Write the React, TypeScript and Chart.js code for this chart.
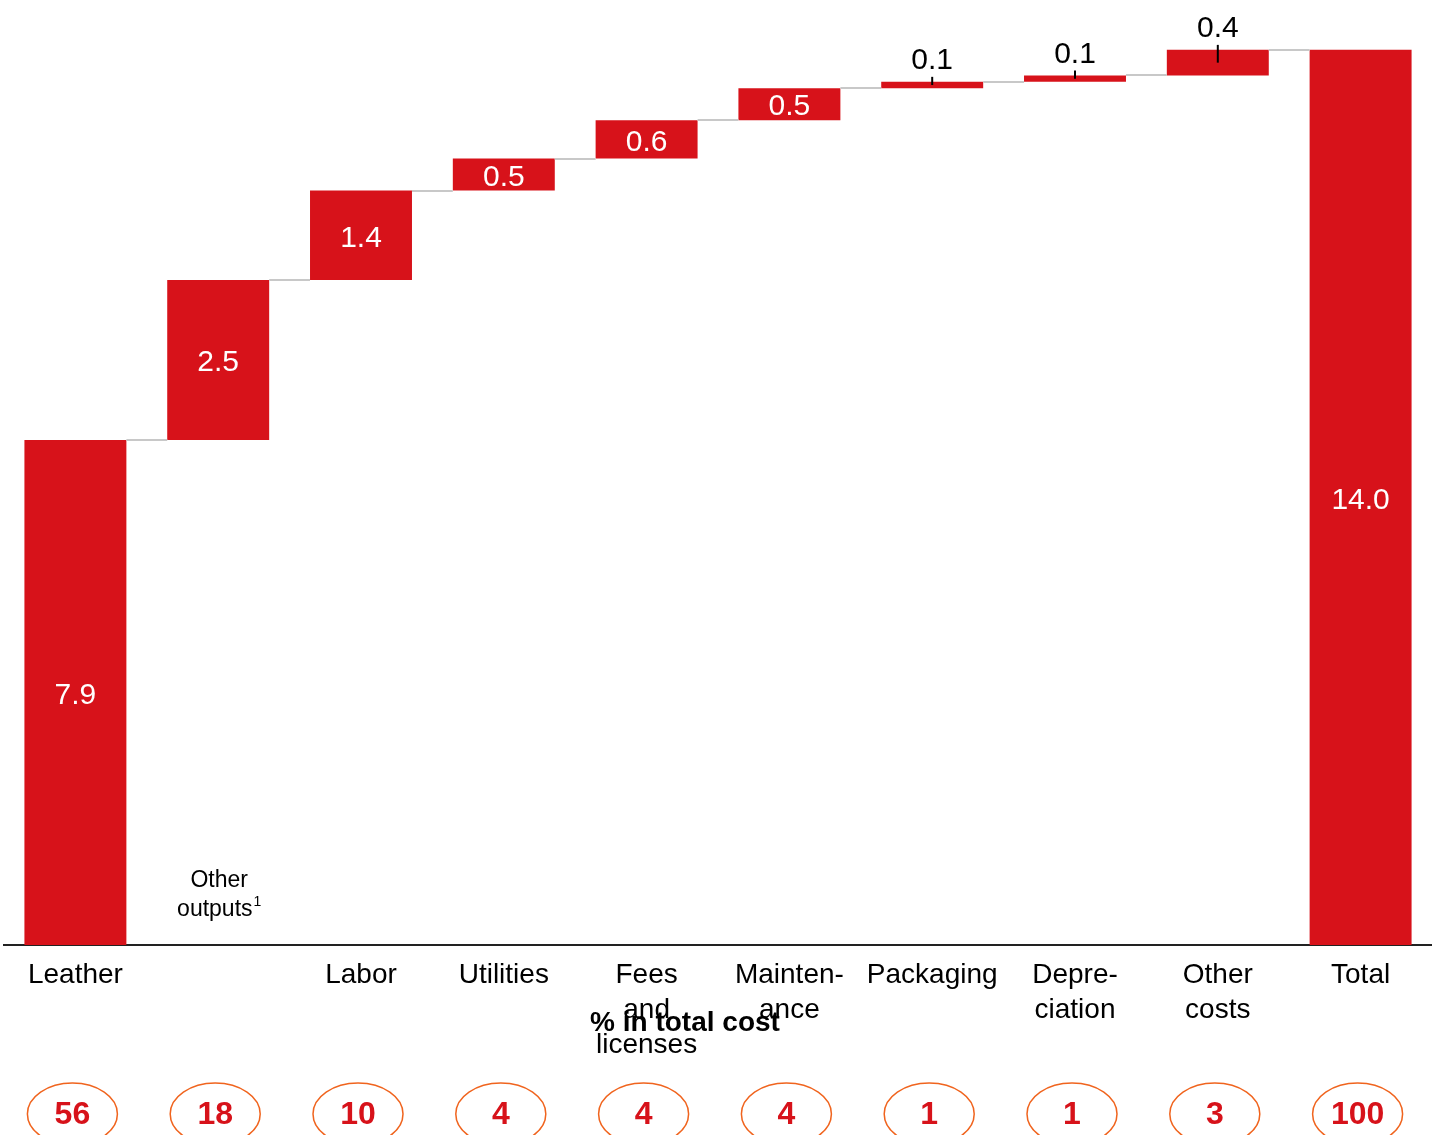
import React, { useEffect, useRef } from 'react';
import { Chart, registerables } from 'chart.js';

Chart.register(...registerables);

const categories: (string | string[])[] = [
  'Leather',
  '',
  'Labor',
  'Utilities',
  ['Fees', 'and', 'licenses'],
  ['Mainten-', 'ance'],
  'Packaging',
  ['Depre-', 'ciation'],
  ['Other', 'costs'],
  'Total',
];
const values = [7.9, 2.5, 1.4, 0.5, 0.6, 0.5, 0.1, 0.1, 0.4, 14.0];
const shares = [56, 18, 10, 4, 4, 4, 1, 1, 3, 100];
const noteCategoryIndex = 1;
const noteLines = ['Other', 'outputs'];
const noteSup = '1';
const shareTitle = '% in total cost';
const totalIndex = 9;

const RED = '#D7121A';
const ORANGE = '#F0641E';
const FONT = '"Liberation Sans", Arial, Helvetica, sans-serif';

function buildRanges(): [number, number][] {
  let run = 0;
  return values.map((v, i) => {
    if (i === totalIndex) return [0, v];
    const r: [number, number] = [run, +(run + v).toFixed(4)];
    run = r[1];
    return r;
  });
}

export default function App() {
  const ref = useRef<HTMLCanvasElement | null>(null);

  useEffect(() => {
    if (!ref.current) return;
    const ranges = buildRanges();

    const overlay = {
      id: 'overlay',
      afterDatasetsDraw(chart: any) {
        const ctx = chart.ctx as CanvasRenderingContext2D;
        const meta = chart.getDatasetMeta(0);
        const y = chart.scales.y;
        ctx.save();
        // connectors
        ctx.strokeStyle = '#c8c8c8';
        ctx.lineWidth = 2;
        for (let i = 0; i < meta.data.length - 1; i++) {
          const a = meta.data[i];
          const b = meta.data[i + 1];
          const py = Math.round(y.getPixelForValue(ranges[i][1]));
          ctx.beginPath();
          ctx.moveTo(a.x + a.width / 2, py);
          ctx.lineTo(b.x - b.width / 2, py);
          ctx.stroke();
        }
        // value labels
        ctx.textAlign = 'center';
        ctx.textBaseline = 'middle';
        ctx.font = `30px ${FONT}`;
        meta.data.forEach((bar: any, i: number) => {
          const top = y.getPixelForValue(ranges[i][1]);
          const bottom = y.getPixelForValue(ranges[i][0]);
          const h = bottom - top;
          const txt = values[i].toFixed(1);
          if (h >= 30) {
            ctx.fillStyle = '#ffffff';
            ctx.fillText(txt, bar.x, (top + bottom) / 2 + 3);
          } else {
            ctx.fillStyle = '#000000';
            ctx.fillText(txt, bar.x, top - 21);
            ctx.strokeStyle = '#000000';
            ctx.lineWidth = 2;
            ctx.beginPath();
            ctx.moveTo(bar.x, top - 5);
            ctx.lineTo(bar.x, (top + bottom) / 2);
            ctx.stroke();
          }
        });
        ctx.restore();
      },
      afterDraw(chart: any) {
        const ctx = chart.ctx as CanvasRenderingContext2D;
        const x = chart.scales.x;
        const ca = chart.chartArea;
        ctx.save();
        // note label inside chart
        const nx = x.getPixelForValue(noteCategoryIndex);
        ctx.fillStyle = '#000';
        ctx.textBaseline = 'middle';
        ctx.textAlign = 'center';
        ctx.font = `23px ${FONT}`;
        ctx.fillText(noteLines[0], nx + 1, ca.bottom - 64);
        const w1 = ctx.measureText(noteLines[1]).width;
        ctx.font = `14px ${FONT}`;
        const w2 = ctx.measureText(noteSup).width;
        const startX = nx + 1 - (w1 + w2 + 1) / 2;
        ctx.textAlign = 'left';
        ctx.font = `23px ${FONT}`;
        ctx.fillText(noteLines[1], startX, ca.bottom - 35);
        ctx.font = `14px ${FONT}`;
        ctx.fillText(noteSup, startX + w1 + 1, ca.bottom - 43);

        // share title
        ctx.textAlign = 'center';
        ctx.font = `bold 28px ${FONT}`;
        ctx.fillText(shareTitle, (ca.left + ca.right) / 2 - 33, ca.bottom + 78);

        // share ellipses
        shares.forEach((s, i) => {
          const cx = x.getPixelForValue(i) - 3;
          const cy = ca.bottom + 169;
          ctx.strokeStyle = ORANGE;
          ctx.lineWidth = 1.5;
          ctx.beginPath();
          ctx.ellipse(cx, cy, 45, 31, 0, 0, Math.PI * 2);
          ctx.stroke();
          ctx.fillStyle = RED;
          ctx.font = `bold 32px ${FONT}`;
          ctx.fillText(String(s), cx, cy + 1);
        });
        ctx.restore();
      },
    };

    const chart = new Chart(ref.current, {
      type: 'bar',
      data: {
        labels: categories,
        datasets: [
          {
            data: ranges as any,
            backgroundColor: RED,
            borderWidth: 0,
            categoryPercentage: 1,
            barPercentage: 0.714,
          },
        ],
      },
      options: {
        responsive: false,
        animation: false,
        devicePixelRatio: 1,
        layout: { padding: { left: 4, right: 0, top: 0, bottom: 0 } },
        plugins: {
          legend: { display: false },
          tooltip: { enabled: false },
        },
        scales: {
          x: {
            grid: { display: false, drawTicks: false },
            border: { display: true, color: '#222222', width: 2 },
            ticks: {
              color: '#000000',
              font: { family: FONT, size: 28, lineHeight: 1.25 },
              padding: 13,
              maxRotation: 0,
              autoSkip: false,
            },
            afterFit(scale: any) {
              scale.height = 190;
            },
          },
          y: { display: false, min: 0, max: 14.78 },
        },
      },
      plugins: [overlay],
    });
    return () => chart.destroy();
  }, []);

  return (
    <div style={{ position: 'fixed', left: 0, top: 0, width: 1432, height: 1135, background: '#fff' }}>
      <canvas ref={ref} width={1432} height={1135} style={{ display: 'block' }} />
    </div>
  );
}
